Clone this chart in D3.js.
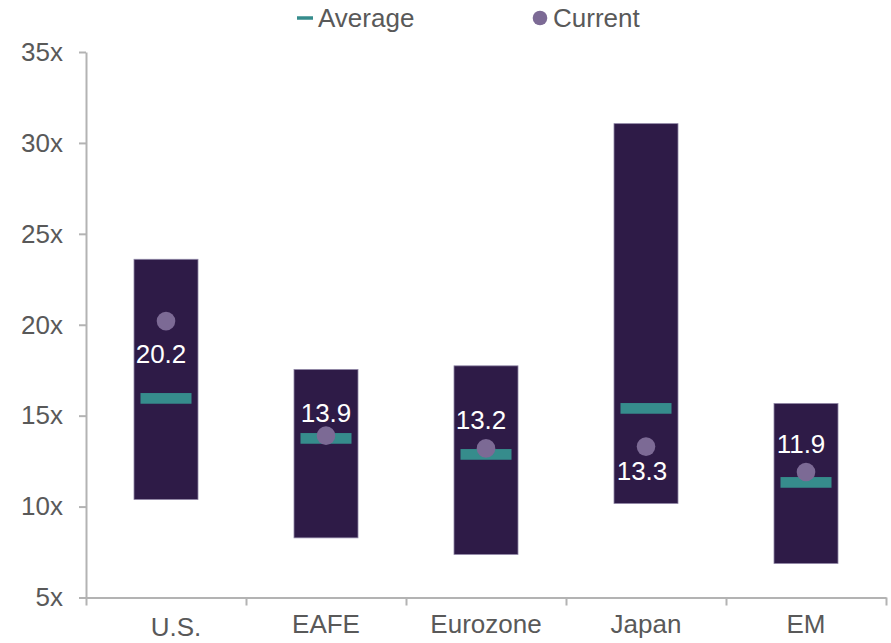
<!DOCTYPE html>
<html>
<head>
<meta charset="utf-8">
<script src="https://cdn.jsdelivr.net/npm/d3@7"></script>
<style>
  html, body { margin: 0; padding: 0; background: #fff; }
  svg { display: block; font-family: "Liberation Sans", Arial, sans-serif; }
</style>
</head>
<body>
<svg id="chart" width="891" height="643"></svg>
<script>
// ---- data ----
const categories = ["U.S.", "EAFE", "Eurozone", "Japan", "EM"];
const rangeHigh = [23.6, 17.54, 17.74, 31.06, 15.67];
const rangeLow  = [10.39, 8.28, 7.37, 10.17, 6.87];
const averageValues = [15.95, 13.75, 12.87, 15.40, 11.33];
const currentValues = [20.2, 13.9, 13.2, 13.3, 11.9];
const yTicks = [5, 10, 15, 20, 25, 30, 35];
const yTickLabels = ["5x", "10x", "15x", "20x", "25x", "30x", "35x"];
const legendLabels = ["Average", "Current"];

(function () {
// ---- styles ----
const barColor = "#2e1b47";
const barStroke = "#8f86a6";
const avgColor = "#368c8c";
const dotColor = "#7c6a95";
const axisColor = "#b3b3b3";
const textColor = "#595959";

const svg = d3.select("#chart");
const plotLeft = 86, plotRight = 886, plotTop = 52, plotBottom = 597.5;

const x = d3.scaleBand().domain(categories).range([plotLeft, plotRight])
  .paddingInner(0.6).paddingOuter(0.3);
const xBound = d3.scaleLinear().domain([0, categories.length]).range([plotLeft, plotRight]);
const y = d3.scaleLinear().domain([5, 35]).range([plotBottom, plotTop]);

// y axis
const yAxis = svg.append("g").attr("transform", `translate(${plotLeft},0)`)
  .call(d3.axisLeft(y).tickValues(yTicks)
    .tickFormat((d, i) => yTickLabels[i]).tickSize(7).tickPadding(16).tickSizeOuter(0));
yAxis.select(".domain").attr("stroke", axisColor).attr("stroke-width", 2);
yAxis.selectAll(".tick line").attr("stroke", axisColor).attr("stroke-width", 2);
yAxis.selectAll(".tick text").attr("fill", textColor).attr("font-size", 26)
  .attr("font-family", "Liberation Sans, Arial, sans-serif");

// x axis boundaries
const xAxisB = svg.append("g").attr("transform", `translate(0,${plotBottom})`)
  .call(d3.axisBottom(xBound).tickValues(d3.range(categories.length + 1))
    .tickFormat("").tickSize(8).tickSizeOuter(0));
xAxisB.select(".domain").attr("stroke", axisColor).attr("stroke-width", 2);
xAxisB.selectAll(".tick line").attr("stroke", axisColor).attr("stroke-width", 2);

// x axis labels
const xAxisL = svg.append("g").attr("transform", `translate(0,${plotBottom})`)
  .call(d3.axisBottom(x).tickSize(0).tickPadding(17));
xAxisL.select(".domain").remove();
xAxisL.selectAll(".tick text").attr("fill", textColor).attr("font-size", 26)
  .attr("font-family", "Liberation Sans, Arial, sans-serif")
  .attr("dx", d => d === "U.S." ? 10 : 0)
  .attr("transform", d => d === "U.S." ? "translate(0,3)" : null);

// range bars
svg.append("g").selectAll("rect").data(categories).join("rect")
  .attr("x", d => x(d))
  .attr("width", x.bandwidth())
  .attr("y", (d, i) => y(rangeHigh[i]))
  .attr("height", (d, i) => y(rangeLow[i]) - y(rangeHigh[i]))
  .attr("fill", barColor)
  .attr("stroke", barStroke).attr("stroke-width", 0.8);

// average markers
const avgW = 51, avgH = 10.7;
svg.append("g").selectAll("rect").data(categories).join("rect")
  .attr("x", d => x(d) + x.bandwidth() / 2 - avgW / 2)
  .attr("width", avgW)
  .attr("y", (d, i) => y(averageValues[i]) - avgH / 2)
  .attr("height", avgH)
  .attr("fill", avgColor);

// current dots
svg.append("g").selectAll("circle").data(categories).join("circle")
  .attr("cx", d => x(d) + x.bandwidth() / 2)
  .attr("cy", (d, i) => y(currentValues[i]))
  .attr("r", 9.3)
  .attr("fill", dotColor);

// data labels
const labelOffset = {
  "U.S.": [-5, 42], "EAFE": [0, -14], "Eurozone": [-5, -19],
  "Japan": [-4, 33], "EM": [-5, -19]
};
svg.append("g").selectAll("text").data(categories).join("text")
  .attr("x", d => x(d) + x.bandwidth() / 2 + labelOffset[d][0])
  .attr("y", (d, i) => y(currentValues[i]) + labelOffset[d][1])
  .attr("text-anchor", "middle")
  .attr("fill", "#ffffff")
  .attr("font-size", 26)
  .text((d, i) => currentValues[i].toFixed(1));

// legend
const lg = svg.append("g");
lg.append("line").attr("x1", 297).attr("x2", 313).attr("y1", 18).attr("y2", 18)
  .attr("stroke", avgColor).attr("stroke-width", 3.5);
lg.append("text").attr("x", 318).attr("y", 27).attr("fill", textColor)
  .attr("font-size", 26).text(legendLabels[0]);
lg.append("circle").attr("cx", 540).attr("cy", 18).attr("r", 7.3).attr("fill", dotColor);
lg.append("text").attr("x", 553).attr("y", 27).attr("fill", textColor)
  .attr("font-size", 26).text(legendLabels[1]);
})();
</script>
</body>
</html>
